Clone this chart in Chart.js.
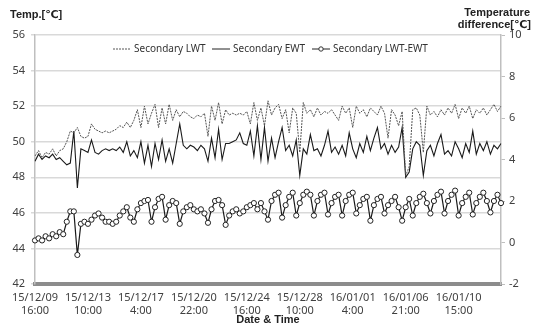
<!DOCTYPE html>
<html lang="en">
  <head>
    <meta charset="UTF-8" />
    <title>Secondary LWT / EWT</title>
    <script src="https://cdn.jsdelivr.net/npm/chart.js"></script>
    <style>
      body {
        margin: 0;
        background: #ffffff;
      }
      .chart-box {
        width: 533px;
        height: 325px;
      }
    </style>
  </head>
  <body>
    <div class="chart-box"><canvas id="tempChart"></canvas></div>

    <script>
      // x-axis tick labels, one every 15 samples (samples are 6 h apart)
      const tickLabels = [
        ["15/12/09", "16:00"],
        ["15/12/13", "10:00"],
        ["15/12/17", "4:00"],
        ["15/12/20", "22:00"],
        ["15/12/24", "16:00"],
        ["15/12/28", "10:00"],
        ["16/01/01", "4:00"],
        ["16/01/06", "21:00"],
        ["16/01/10", "15:00"],
      ];
      const tickEvery = 15;

      // Secondary LWT [C], left axis
      const lwt = [
        49.2, 49.5, 49.1, 49.4, 49.3, 49.6, 49.2, 49.5, 49.6, 50.0,
        50.6, 50.5, 50.8, 50.3, 50.2, 50.3, 51.0, 50.7, 50.6, 50.5,
        50.6, 50.5, 50.6, 50.7, 50.9, 50.8, 51.1, 50.8, 51.2, 51.8,
        50.8, 52.0, 51.0, 51.6, 52.1, 50.8, 51.9, 51.0, 52.1, 51.2,
        51.8, 51.4, 51.7, 51.6, 51.4, 51.3, 51.5, 51.4, 51.6, 50.3,
        52.0, 51.2, 52.2, 51.0, 51.8, 51.5, 51.6, 51.5, 51.6, 51.5,
        51.7, 51.0, 52.2, 51.2, 51.9, 50.9, 52.3, 51.5, 51.9, 52.1,
        51.3, 51.8, 50.5, 51.9, 51.6, 49.4, 52.2, 51.6, 51.8, 51.4,
        51.9, 51.5, 51.7, 51.6, 51.8, 51.5, 51.2, 52.0, 51.6, 51.9,
        50.8, 52.0, 51.6, 51.8, 51.4, 51.9, 51.7, 51.5, 52.0, 51.6,
        50.2, 51.8, 51.5, 50.9, 51.7, 48.1, 48.6, 51.8, 51.9, 51.5,
        49.4, 52.0, 51.5, 51.7, 51.4, 51.8, 51.5, 51.9, 51.6, 52.1,
        51.3, 51.9, 51.6, 52.0, 51.3, 51.8, 51.6, 51.9, 51.5, 51.8,
        52.1, 51.7, 52.0,
      ];

      // Secondary EWT [C], left axis
      const ewt = [
        48.9, 49.3, 49.0, 49.2, 49.1, 49.3, 49.0, 49.1, 48.9, 48.7,
        48.8, 50.6, 47.4, 49.6, 49.5, 49.4, 50.1, 49.4, 49.3, 49.5,
        49.6, 49.5, 49.6, 49.5, 49.7, 49.4, 50.0, 49.2, 49.5, 49.1,
        50.0, 48.8, 49.8, 48.6, 49.9, 49.0, 50.1, 48.9, 49.6, 48.8,
        49.9, 51.0, 49.8, 49.6, 49.8, 49.7, 49.5, 49.8, 49.6, 48.9,
        50.2, 49.1, 50.7, 49.0, 49.9, 49.9, 50.0, 50.1, 50.5, 49.9,
        49.8, 50.6, 49.2, 50.9, 49.0, 50.8, 48.9, 50.2, 49.1, 50.0,
        50.8, 49.5, 49.8, 49.2, 50.1, 48.1, 49.6, 49.3, 50.4, 49.5,
        49.6, 49.2, 49.8, 50.6, 49.4, 49.7, 49.3, 49.8, 49.2, 50.5,
        49.6, 49.1, 49.9, 49.4, 50.3, 49.5, 50.2, 50.8, 49.6, 49.9,
        49.3, 49.8, 49.4, 49.7, 50.8, 48.0, 48.3, 49.6, 50.0, 49.8,
        48.1, 49.5, 49.8, 49.2, 49.9, 50.4, 49.3, 49.5, 49.2, 50.0,
        49.6, 49.1, 49.9, 49.4, 50.6, 49.3, 49.9, 49.5, 50.0, 49.3,
        49.8, 49.6, 49.9,
      ];

      // Secondary LWT-EWT [C], right axis
      const diff = [
        0.1, 0.2, 0.1, 0.3, 0.2, 0.4, 0.3, 0.5, 0.4, 1.0,
        1.5, 1.5, -0.6, 0.9, 1.0, 0.9, 1.1, 1.3, 1.4, 1.2,
        1.0, 1.0, 0.9, 1.0, 1.3, 1.5, 1.7, 1.2, 1.0, 1.6,
        1.9, 2.0, 2.05, 1.0, 1.7, 2.1, 2.2, 1.1, 1.8, 2.0,
        1.9, 0.9, 1.5, 1.7, 1.8, 1.6, 1.5, 1.6, 1.4, 0.95,
        1.6, 2.0, 2.05, 1.8, 0.85, 1.3, 1.5, 1.6, 1.4, 1.5,
        1.7, 1.8, 1.9, 1.6, 1.9, 1.5, 1.1, 2.0, 2.3, 2.4,
        1.2, 1.8, 2.2, 2.4, 1.3, 1.9, 2.3, 2.45, 2.3, 1.3,
        2.0, 2.3, 2.4, 1.35, 1.9, 2.2, 2.3, 1.3, 2.0, 2.3,
        2.4, 1.4, 1.8, 2.1, 2.2, 1.05, 1.8, 2.1, 2.2, 1.4,
        1.8, 2.0, 2.2, 1.7, 1.05, 1.7, 2.1, 1.3, 1.9, 2.2,
        2.35, 1.9, 1.4, 2.0, 2.3, 2.45, 1.4, 2.0, 2.3, 2.5,
        1.3, 1.9, 2.2, 2.4, 1.35, 1.9, 2.2, 2.4, 2.0, 1.45,
        2.0, 2.3, 1.9,
      ];

      const categories = lwt.map((_, i) => i);

      const textColor = "#404040";
      const gridColor = "#d9d9d9";
      const titleFont = "bold 11px 'Liberation Sans', 'DejaVu Sans'";

      // legend and axis titles drawn over the chart, like the Excel original
      const overlayText = {
        id: "overlayText",
        afterDraw(chart) {
          const ctx = chart.ctx;
          ctx.save();
          ctx.fillStyle = "#222";
          ctx.textBaseline = "middle";

          ctx.font = titleFont;
          ctx.textAlign = "left";
          ctx.fillText("Temp.[\u2103]", 10, 15);
          ctx.textAlign = "right";
          ctx.fillText("Temperature", 530, 13);
          ctx.fillText("difference[\u2103]", 531, 25);
          ctx.textAlign = "center";
          ctx.fillText("Date & Time", 268, 320);

          // legend
          const ly = 49;
          ctx.font = "10px 'Noto Sans'";
          ctx.textAlign = "left";
          ctx.fillStyle = "#333";
          const items = [
            { x: 113, dash: [2, 1], color: "#555", text: "Secondary LWT" },
            { x: 212, dash: [], color: "#222", text: "Secondary EWT" },
            { x: 312, dash: [], color: "#222", text: "Secondary LWT-EWT", dot: true },
          ];
          items.forEach((it) => {
            ctx.beginPath();
            ctx.setLineDash(it.dash);
            ctx.strokeStyle = it.color;
            ctx.lineWidth = 1;
            ctx.moveTo(it.x, ly);
            ctx.lineTo(it.x + 18, ly);
            ctx.stroke();
            ctx.setLineDash([]);
            if (it.dot) {
              ctx.beginPath();
              ctx.arc(it.x + 9, ly, 2.2, 0, Math.PI * 2);
              ctx.fillStyle = "#fff";
              ctx.fill();
              ctx.strokeStyle = "#333";
              ctx.stroke();
              ctx.fillStyle = "#333";
            }
            ctx.fillText(it.text, it.x + 21, ly);
          });
          ctx.restore();
        },
      };

      new Chart(document.getElementById("tempChart"), {
        type: "line",
        data: {
          labels: categories,
          datasets: [
            {
              label: "Secondary LWT",
              data: lwt,
              yAxisID: "y",
              borderColor: "#555",
              borderWidth: 1,
              borderDash: [2, 1],
              pointRadius: 0,
              tension: 0,
            },
            {
              label: "Secondary EWT",
              data: ewt,
              yAxisID: "y",
              borderColor: "#1a1a1a",
              borderWidth: 1.1,
              pointRadius: 0,
              tension: 0,
            },
            {
              label: "Secondary LWT-EWT",
              data: diff,
              yAxisID: "y1",
              borderColor: "#1a1a1a",
              borderWidth: 1.2,
              pointRadius: 2.6,
              pointBackgroundColor: "#fff",
              pointBorderColor: "#222",
              pointBorderWidth: 1,
              tension: 0,
            },
          ],
        },
        options: {
          responsive: true,
          maintainAspectRatio: false,
          animation: false,
          layout: { padding: { top: 35, left: 0, right: 0, bottom: 0 } },
          plugins: {
            legend: { display: false },
            tooltip: { enabled: false },
          },
          scales: {
            x: {
              type: "category",
              offset: false,
              grid: { display: false },
              border: { display: true, color: "#8c8c8c", width: 4 },
              ticks: {
                autoSkip: false,
                maxRotation: 0,
                padding: 0,
                color: textColor,
                font: { family: "Noto Sans", size: 11, lineHeight: 1.15 },
                callback: (val, idx) =>
                  idx % tickEvery === 0 ? tickLabels[idx / tickEvery] : null,
              },
              afterFit: (axis) => {
                axis.height = 41;
              },
            },
            y: {
              position: "left",
              min: 42,
              max: 56,
              ticks: {
                stepSize: 2,
                padding: 6,
                color: textColor,
                font: { family: "Noto Sans", size: 11 },
              },
              grid: { color: gridColor, lineWidth: 1.5, tickLength: 4 },
              border: { color: "#bfbfbf", width: 1.5 },
              afterFit: (axis) => {
                axis.width = 35;
              },
            },
            y1: {
              position: "right",
              min: -2,
              max: 10,
              ticks: {
                stepSize: 2,
                padding: 4,
                color: textColor,
                font: { family: "Noto Sans", size: 11 },
              },
              grid: { drawOnChartArea: false, color: "#bfbfbf", tickLength: 4 },
              border: { color: "#bfbfbf", width: 1.5 },
              afterFit: (axis) => {
                axis.width = 32;
              },
            },
          },
        },
        plugins: [overlayText],
      });
    </script>
  </body>
</html>
